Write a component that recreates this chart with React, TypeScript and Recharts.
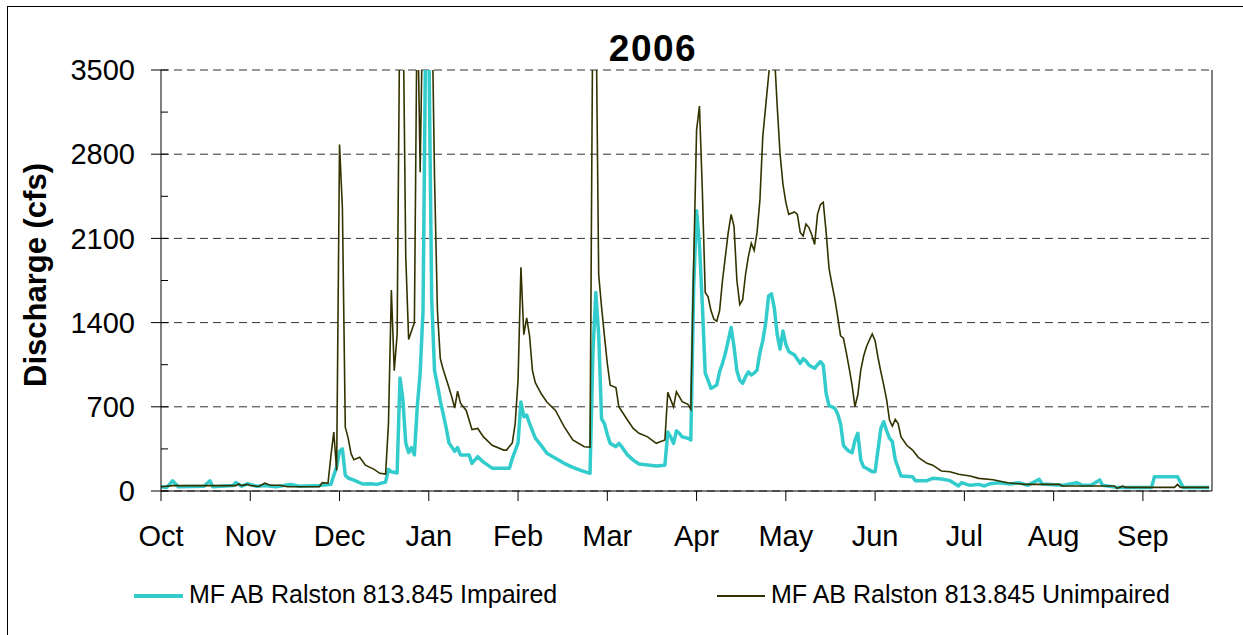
import { LineChart, Line, XAxis, YAxis, CartesianGrid, ReferenceLine } from 'recharts'

// water year 2006, day 0 = Oct 1
const MONTHS = ['Oct', 'Nov', 'Dec', 'Jan', 'Feb', 'Mar', 'Apr', 'May', 'Jun', 'Jul', 'Aug', 'Sep']
const MONTH_TICKS = [0, 31, 62, 93, 124, 155, 186, 217, 248, 279, 310, 341]
const CFS_TICKS = [0, 700, 1400, 2100, 2800, 3500]
const MINOR_TICKS = [0, 350, 700, 1050, 1400, 1750, 2100, 2450, 2800, 3150, 3500]

const impairedDay = [
  0, 2, 4, 6, 15, 17, 18, 25, 26, 28, 30, 33, 36, 40, 45, 48, 55, 59, 60, 61, 62, 63, 64, 65, 67, 70, 73, 75, 78, 79, 80, 82,
  83, 84, 85, 86, 87, 88, 89, 90, 91, 92, 93, 94, 95, 96, 97, 99, 100, 102, 103, 104, 107, 108, 110, 112, 115, 121, 122, 124,
  125, 126, 127, 128, 129, 130, 132, 134, 137, 140, 143, 146, 149, 150, 151, 152, 153, 154, 155, 156, 158, 159, 160, 162, 164,
  166, 169, 172, 175, 176, 177, 178, 179, 180, 181, 183, 184, 185, 186, 187, 188, 189, 190, 191, 193, 194, 195, 196, 197, 198,
  199, 200, 201, 202, 203, 204, 205, 206, 207, 208, 209, 210, 211, 212, 213, 214, 215, 216, 217, 218, 220, 221, 222, 223, 224,
  225, 226, 227, 228, 229, 230, 231, 232, 233, 234, 235, 236, 237, 238, 239, 240, 241, 242, 243, 244, 245, 247, 248, 249, 250,
  251, 252, 253, 254, 255, 257, 261, 262, 266, 268, 271, 274, 277, 278, 281, 284, 286, 288, 291, 295, 298, 301, 305, 306, 313,
  318, 320, 323, 326, 327, 332, 344, 345, 353, 355, 364,
]
const impairedCfs = [
  35, 30, 85, 35, 40, 85, 35, 45, 70, 40, 60, 40, 45, 35, 55, 40, 45, 55, 130, 200, 330, 350, 130, 108, 90, 58, 60, 55, 75, 180, 160, 150,
  940, 760, 400, 320, 360, 300, 700, 980, 1500, 4000, 3800, 1600, 1000, 880, 750, 530, 400, 330, 360, 300, 300, 230, 285, 240, 190, 190, 270, 400,
  740, 618, 632, 560, 500, 440, 380, 313, 272, 230, 196, 169, 147, 1150, 1650, 1300, 600, 560, 470, 396, 368, 396, 368, 300, 257,
  224, 216, 208, 215, 490, 450, 396, 500, 480, 450, 438, 424, 1700, 2330, 2050, 1550, 980, 920, 853, 881, 992, 1061, 1145, 1250, 1360,
  1200, 1000, 920, 895, 950, 990, 965, 980, 1006, 1150, 1250, 1394, 1620, 1640, 1520, 1300, 1180, 1330, 1220, 1160, 1130, 1095, 1061, 1100, 1080,
  1047, 1033, 1020, 1050, 1075, 1047, 812, 710, 700, 687, 640, 560, 380, 350, 330, 318, 420, 480, 260, 200, 189, 161, 161, 341, 520,
  576, 500, 440, 410, 260, 125, 119, 86, 86, 105, 100, 86, 42, 69, 47, 55, 42, 61, 69, 58, 69, 47, 97, 58, 47,
  69, 47, 47, 92, 47, 30, 30, 119, 119, 30, 30,
]

const unimpairedDay = [
  0, 4, 26, 27, 28, 30, 31, 34, 36, 38, 41, 44, 55, 56, 58, 59, 60, 61, 62, 63, 64, 65, 66, 67, 69, 71, 74, 76, 78, 79, 80, 81,
  82, 83, 84, 85, 86, 87, 88, 89, 90, 91, 94, 95, 96, 97, 98, 100, 101, 102, 103, 104, 106, 107, 108, 110, 112, 115, 119, 120,
  122, 123, 124, 125, 126, 127, 128, 129, 130, 132, 134, 137, 140, 143, 147, 149, 150, 151, 152, 153, 154, 155, 156, 158, 159,
  162, 164, 166, 169, 172, 175, 176, 177, 178, 179, 181, 183, 184, 185, 186, 187, 188, 189, 190, 191, 192, 193, 194, 195, 196,
  197, 198, 199, 200, 201, 202, 203, 204, 205, 206, 207, 208, 209, 210, 211, 212, 213, 214, 215, 216, 217, 218, 220, 221, 222,
  223, 224, 225, 226, 227, 228, 229, 230, 231, 232, 233, 234, 235, 236, 237, 238, 239, 240, 241, 242, 243, 244, 245, 246, 247,
  248, 249, 250, 251, 252, 253, 254, 255, 256, 257, 259, 261, 263, 266, 268, 271, 274, 277, 281, 284, 289, 294, 300, 312, 313,
  331, 332, 334, 335, 352, 353, 354, 364,
]
const unimpairedCfs = [
  35, 45, 45, 58, 45, 55, 45, 38, 65, 48, 48, 35, 35, 70, 65, 290, 490, 170, 2880, 2350, 530, 440, 310, 260, 280, 215, 180, 147, 140, 560, 1670, 1000,
  1300, 4200, 4200, 1950, 1260, 1330, 1400, 4200, 2650, 4200, 4200, 2600, 1500, 1100, 1010, 860, 780, 690, 830, 730, 670, 590, 510, 520, 450, 380, 340, 340,
  400, 560, 920, 1860, 1300, 1440, 1290, 1000, 900, 810, 740, 670, 535, 425, 368, 365, 4200, 4200, 1800, 1530, 1290, 1060, 880, 860, 700,
  590, 520, 480, 450, 396, 424, 820, 760, 700, 826, 743, 720, 680, 1900, 3000, 3200, 2500, 1650, 1615, 1500, 1430, 1410, 1500, 1750, 1950,
  2150, 2300, 2200, 1750, 1550, 1590, 1800, 1950, 2060, 2000, 2150, 2420, 2950, 3200, 3450, 3700, 3650, 3200, 2800, 2550, 2400, 2300, 2320, 2300, 2150,
  2120, 2220, 2190, 2130, 2050, 2300, 2380, 2400, 2150, 1850, 1720, 1600, 1450, 1290, 1270, 1150, 1020, 880, 701, 800, 1000, 1120, 1200, 1255, 1305,
  1250, 1110, 990, 880, 760, 590, 540, 595, 560, 450, 380, 340, 280, 230, 215, 166, 160, 139, 125, 105, 94, 69, 55, 55, 42,
  42, 22, 40, 30, 30, 55, 30, 30,
]

const impairedData = impairedDay.map((day, i) => ({ day, cfs: impairedCfs[i] }))
const unimpairedData = unimpairedDay.map((day, i) => ({ day, cfs: unimpairedCfs[i] }))

const IMPAIRED = '#33CCCC'
const UNIMPAIRED = '#333300'
const FONT = '"Liberation Sans", Arial, sans-serif'
const Y_TICK_SIZE = 10
const Y_TICK_MARGIN = 16

// major ticks cross the axis and carry a label, minor ones point inward only
function CfsTick(props: any) {
  const { x, y, payload } = props
  const axisX = x + Y_TICK_SIZE + Y_TICK_MARGIN
  const major = payload.value % 700 === 0
  return (
    <g>
      <line x1={major ? axisX - Y_TICK_SIZE : axisX} x2={axisX + 7} y1={y} y2={y} stroke="#000" />
      {major && (
        <text x={x} y={y} dy="0.355em" textAnchor="end" fontSize={29} fill="#000" fontFamily={FONT}>
          {payload.value}
        </text>
      )}
    </g>
  )
}

export default function App() {
  return (
    <div style={{ position: 'absolute', left: 0, top: 0, width: 1243, height: 635, background: '#fff', overflow: 'hidden', fontFamily: FONT }}>
      <div style={{ position: 'absolute', left: 7, top: 6, width: 1260, height: 660, border: '1px solid #000' }} />
      <LineChart width={1243} height={635} margin={{ top: 70, right: 31, bottom: 84, left: 0 }}>
        <CartesianGrid vertical={false} horizontalValues={CFS_TICKS} stroke="#333" strokeDasharray="8 5" />
        <XAxis type="number" dataKey="day" domain={[0, 365]} ticks={MONTH_TICKS} interval={0}
          tickFormatter={(d: number) => MONTHS[MONTH_TICKS.indexOf(d)]}
          height={60} tickSize={10} tickMargin={24} stroke="#000"
          tick={{ fontSize: 29, fill: '#000', fontFamily: FONT }} />
        <YAxis domain={[0, 3500]} ticks={MINOR_TICKS} allowDataOverflow interval={0} width={161}
          tickSize={Y_TICK_SIZE} tickMargin={Y_TICK_MARGIN} tickLine={false} stroke="#000" tick={CfsTick} />
        <ReferenceLine x={365} stroke="#000" />
        <Line data={impairedData} dataKey="cfs" type="linear" stroke={IMPAIRED} strokeWidth={3.5}
          dot={false} activeDot={false} isAnimationActive={false} strokeLinejoin="round" />
        <Line data={unimpairedData} dataKey="cfs" type="linear" stroke={UNIMPAIRED} strokeWidth={1.6}
          dot={false} activeDot={false} isAnimationActive={false} />
      </LineChart>

      <div style={{ position: 'absolute', left: 653, top: 49, transform: 'translate(-50%, -50%)', fontSize: 37, fontWeight: 'bold', letterSpacing: 1.5 }}>
        2006
      </div>
      <div style={{ position: 'absolute', left: 36, top: 275, transform: 'translate(-50%, -50%) rotate(-90deg)', fontSize: 31, fontWeight: 'bold', whiteSpace: 'nowrap' }}>
        Discharge (cfs)
      </div>

      <div style={{ position: 'absolute', left: 134, top: 594, width: 49, height: 4, background: IMPAIRED }} />
      <div style={{ position: 'absolute', left: 189, top: 594, transform: 'translateY(-50%)', fontSize: 25, whiteSpace: 'nowrap' }}>
        MF AB Ralston 813.845 Impaired
      </div>
      <div style={{ position: 'absolute', left: 717, top: 595, width: 48, height: 2, background: UNIMPAIRED }} />
      <div style={{ position: 'absolute', left: 771, top: 594, transform: 'translateY(-50%)', fontSize: 25, whiteSpace: 'nowrap' }}>
        MF AB Ralston 813.845 Unimpaired
      </div>
    </div>
  )
}
